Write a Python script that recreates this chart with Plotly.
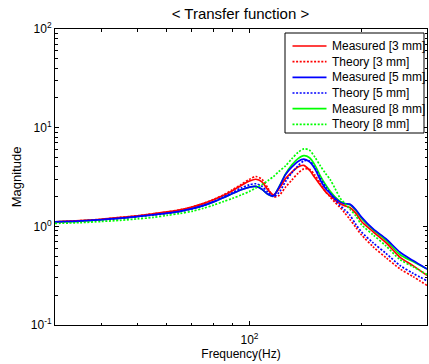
import plotly.graph_objects as go

freq = [30, 35, 40, 45, 50, 55, 60, 65, 70, 75, 80, 85, 90, 95, 100, 104, 108, 112, 116, 120,
        125, 130, 135, 140, 145, 150, 155, 160, 165, 170, 175, 180, 186, 193, 200, 215, 233, 254, 275, 300]

measured_3mm = [1.11, 1.14, 1.18, 1.23, 1.28, 1.34, 1.40, 1.47, 1.57, 1.70, 1.86, 2.05, 2.30, 2.60, 2.88, 3.00, 2.82, 2.35, 2.08, 2.40,
                3.05, 3.55, 4.00, 4.15, 3.70, 3.10, 2.62, 2.25, 2.02, 1.84, 1.70, 1.62, 1.55, 1.36, 1.12, 0.88, 0.68, 0.485, 0.40, 0.318]
theory_3mm = [1.11, 1.14, 1.18, 1.23, 1.28, 1.34, 1.40, 1.47, 1.57, 1.70, 1.87, 2.08, 2.35, 2.66, 3.00, 3.20, 3.00, 2.45, 2.00, 2.05,
              2.50, 2.95, 3.45, 3.82, 3.78, 3.30, 2.72, 2.25, 1.97, 1.74, 1.56, 1.38, 1.18, 0.98, 0.82, 0.62, 0.48, 0.37, 0.31, 0.252]
measured_5mm = [1.11, 1.13, 1.17, 1.21, 1.26, 1.31, 1.36, 1.42, 1.51, 1.62, 1.77, 1.95, 2.15, 2.35, 2.50, 2.54, 2.38, 2.12, 2.04, 2.50,
                3.35, 4.00, 4.55, 4.80, 4.50, 3.80, 2.95, 2.42, 2.15, 1.92, 1.77, 1.70, 1.68, 1.48, 1.24, 0.94, 0.745, 0.546, 0.45, 0.37]
theory_5mm = [1.10, 1.13, 1.16, 1.20, 1.25, 1.30, 1.35, 1.41, 1.50, 1.62, 1.78, 1.98, 2.20, 2.45, 2.64, 2.70, 2.55, 2.22, 2.00, 2.20,
              2.85, 3.50, 4.10, 4.60, 4.60, 3.90, 3.10, 2.55, 2.15, 1.85, 1.63, 1.48, 1.30, 1.05, 0.88, 0.68, 0.53, 0.40, 0.335, 0.28]
measured_8mm = [1.11, 1.13, 1.17, 1.21, 1.26, 1.31, 1.36, 1.42, 1.51, 1.62, 1.77, 1.95, 2.15, 2.35, 2.50, 2.54, 2.38, 2.12, 2.04, 2.50,
                3.40, 4.20, 4.85, 5.20, 4.95, 4.15, 3.25, 2.65, 2.25, 1.98, 1.80, 1.70, 1.65, 1.45, 1.20, 0.92, 0.72, 0.515, 0.44, 0.37]
theory_8mm = [1.07, 1.09, 1.12, 1.15, 1.19, 1.23, 1.29, 1.35, 1.42, 1.52, 1.64, 1.78, 1.92, 2.08, 2.26, 2.45, 2.65, 2.90, 3.20, 3.60,
              4.10, 4.85, 5.60, 6.10, 5.90, 5.00, 4.10, 3.45, 2.95, 2.40, 1.95, 1.72, 1.50, 1.28, 1.04, 0.82, 0.63, 0.46, 0.39, 0.325]

series = [
    # (name, values, color, dash, legend position) in drawing order
    ("Measured [8 mm]", measured_8mm, "#00FF00", "solid", 4),
    ("Measured [3 mm]", measured_3mm, "#FF0000", "solid", 0),
    ("Theory [3 mm]", theory_3mm, "#FF0000", "2px,1.6px", 1),
    ("Measured [5 mm]", measured_5mm, "#0000FF", "solid", 2),
    ("Theory [5 mm]", theory_5mm, "#0000FF", "2px,1.6px", 3),
    ("Theory [8 mm]", theory_8mm, "#00FF00", "2px,1.6px", 5),
]

fig = go.Figure()
for name, vals, color, dash, rank in series:
    fig.add_trace(go.Scatter(
        x=freq, y=vals, mode="lines", name=name, showlegend=False,
        line=dict(color=color, dash=dash, width=1.7, shape="spline", smoothing=0.8),
    ))

W, H = 429, 364
ML, MR, MT, MB = 55, 2, 29, 39
PW, PH = W - ML - MR, H - MT - MB


def px_x(p):
    return (p - ML) / PW


def px_y(p):
    return (H - MB - p) / PH


# legend box (layout only, built from the series list)
leg_l, leg_r, leg_t, leg_b = 285, 424, 33, 133
row0, row_step = 46, 15.66
samp_l, samp_r, text_l = 292.5, 326.5, 330

font = "Liberation Sans, Arial, sans-serif"
shapes = [dict(type="rect", xref="paper", yref="paper", layer="above",
               x0=px_x(leg_l), x1=px_x(leg_r), y0=px_y(leg_b), y1=px_y(leg_t),
               line=dict(color="black", width=1), fillcolor="white")]
annotations = []
for name, vals, color, dash, rank in series:
    yy = px_y(row0 + rank * row_step)
    shapes.append(dict(type="line", xref="paper", yref="paper", layer="above",
                       x0=px_x(samp_l), x1=px_x(samp_r), y0=yy, y1=yy,
                       line=dict(color=color, dash=dash, width=1.7)))
    annotations.append(dict(text=name, xref="paper", yref="paper", x=px_x(text_l), y=yy,
                            xanchor="left", yanchor="middle", showarrow=False,
                            font=dict(size=12, family=font, color="black")))

x_minor = [40, 50, 60, 70, 80, 90, 200]
y_minor = [0.2, 0.3, 0.4, 0.5, 0.6, 0.7, 0.8, 0.9, 2, 3, 4, 5, 6, 7, 8, 9,
           20, 30, 40, 50, 60, 70, 80, 90]

fig.update_layout(
    width=W, height=H,
    margin=dict(l=ML, r=MR, t=MT, b=MB),
    paper_bgcolor="white", plot_bgcolor="white",
    font=dict(family=font, size=12, color="black"),
    title=dict(text="< Transfer function >", x=0.5605, xanchor="center", y=0.962, yanchor="middle",
               font=dict(size=15, family=font, color="black")),
    showlegend=False,
    shapes=shapes,
    annotations=annotations,
    xaxis=dict(type="log", range=[1.4771, 2.4771],
               tickmode="array", tickvals=[100], ticktext=["10<sup>2</sup>"],
               ticks="inside", ticklen=4, tickcolor="black", ticklabelstandoff=4,
               minor=dict(tickmode="array", tickvals=x_minor, ticks="inside", ticklen=2.5, tickcolor="black", showgrid=False),
               showline=True, linecolor="black", linewidth=1, mirror="ticks",
               showgrid=False, zeroline=False,
               title=dict(text="Frequency(Hz)", font=dict(size=12, family=font), standoff=2)),
    yaxis=dict(type="log", range=[-1, 2],
               tickmode="array", tickvals=[0.1, 1, 10, 100],
               ticktext=["10<sup>-1</sup>", "10<sup>0</sup>", "10<sup>1</sup>", "10<sup>2</sup>"],
               ticks="inside", ticklen=4, tickcolor="black",
               minor=dict(tickmode="array", tickvals=y_minor, ticks="inside", ticklen=2.5, tickcolor="black", showgrid=False),
               showline=True, linecolor="black", linewidth=1, mirror="ticks",
               showgrid=False, zeroline=False,
               title=dict(text="Magnitude", font=dict(size=13, family=font), standoff=6)),
)

fig.write_html("out.html", config={"displayModeBar": False})

# remove the default page margin so the figure sits at the window origin
with open("out.html", "r", encoding="utf-8") as fh:
    html = fh.read()
html = html.replace("<body>", '<body style="margin:0;padding:0;overflow:hidden;">', 1)
with open("out.html", "w", encoding="utf-8") as fh:
    fh.write(html)
